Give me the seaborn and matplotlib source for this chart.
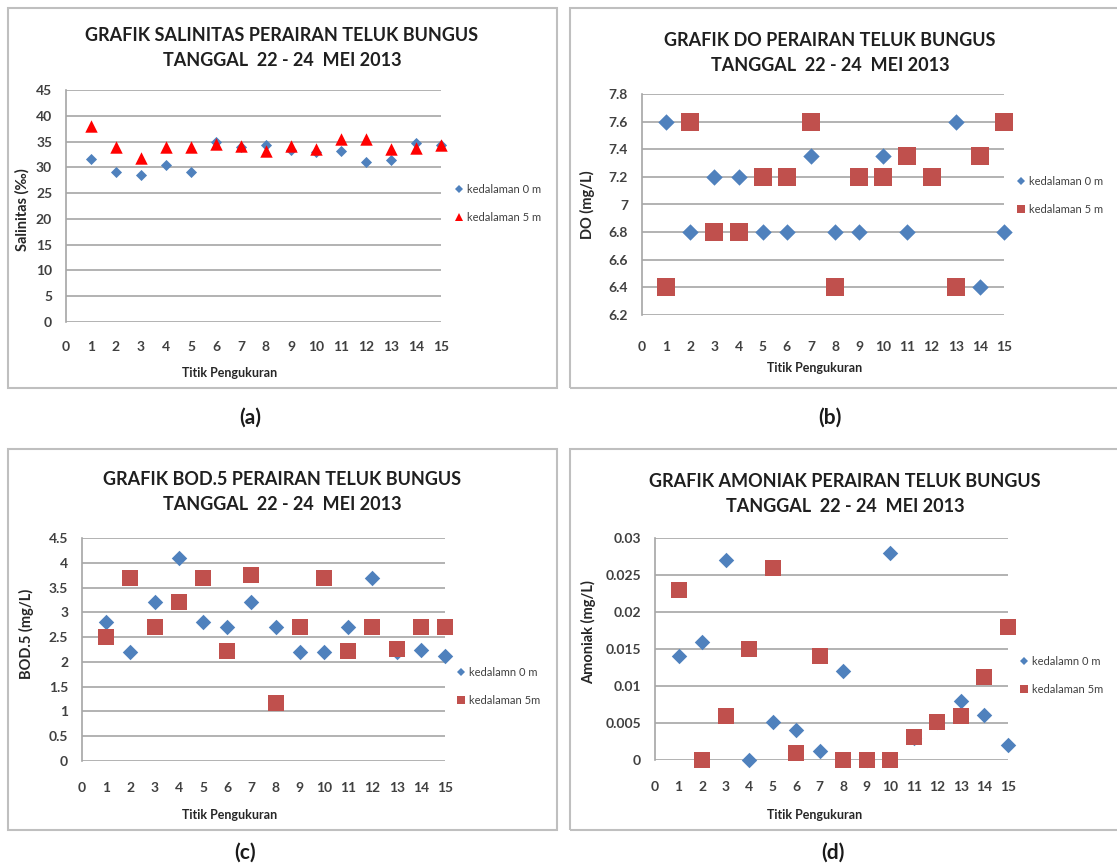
import numpy as np
import pandas as pd
import matplotlib.pyplot as plt
import seaborn as sns
from matplotlib.lines import Line2D
from matplotlib.patches import Rectangle
from matplotlib.ticker import FuncFormatter

sns.set_style("white")
plt.rcParams['font.family'] = ['Lato', 'DejaVu Sans']

# titik pengukuran 1..15
titik = list(range(1, 16))

# salinitas (permil)
sal_0m = [31.7, 29.1, 28.6, 30.5, 29.1, 35.0, 34.0, 34.3, 33.3, 33.0, 33.1, 31.0, 31.4, 34.8, 34.3]
sal_5m = [38.0, 33.9, 31.9, 34.0, 33.9, 34.6, 34.2, 33.2, 34.2, 33.5, 35.4, 35.4, 33.5, 33.8, 34.4]

# DO (mg/L)
do_0m = [7.6, 6.8, 7.2, 7.2, 6.8, 6.8, 7.35, 6.8, 6.8, 7.35, 6.8, 7.2, 7.6, 6.4, 6.8]
do_5m = [6.4, 7.6, 6.8, 6.8, 7.2, 7.2, 7.6, 6.4, 7.2, 7.2, 7.35, 7.2, 6.4, 7.35, 7.6]

# BOD5 (mg/L)
bod_0m = [2.8, 2.2, 3.2, 4.1, 2.8, 2.7, 3.2, 2.7, 2.2, 2.2, 2.7, 3.7, 2.2, 2.25, 2.12]
bod_5m = [2.5, 3.7, 2.7, 3.2, 3.7, 2.22, 3.75, 1.17, 2.7, 3.7, 2.22, 2.7, 2.27, 2.7, 2.7]

# amoniak (mg/L)
amo_0m = [0.014, 0.016, 0.027, 0.0, 0.0052, 0.004, 0.0012, 0.012, 0.0, 0.028, 0.003, 0.0052, 0.008, 0.0061, 0.002]
amo_5m = [0.023, 0.0, 0.006, 0.015, 0.026, 0.001, 0.014, 0.0, 0.0, 0.0, 0.0031, 0.0052, 0.006, 0.0112, 0.018]

W, H = 1117, 863
BLUE = '#4F81BD'
RED = '#C0504D'
TRI = '#FF0000'
GRID = '#A6A6A6'
TXT = '#404040'

fig = plt.figure(figsize=(W / 100, H / 100), dpi=100)


def px_axes(x0, y0, x1, y1):
    return fig.add_axes([x0 / W, 1 - y1 / H, (x1 - x0) / W, (y1 - y0) / H])


def fx(x):
    return x / W


def fy(y):
    return 1 - y / H


# panel frames
for (x0, y0, x1, y1) in [(8, 8, 557, 388), (570, 8, 1125, 388),
                         (8, 449, 557, 830), (570, 449, 1125, 830)]:
    fig.patches.append(Rectangle((fx(x0), fy(y1)), fx(x1 - x0), (y1 - y0) / H,
                                 transform=fig.transFigure, fill=False,
                                 edgecolor='#BFBFBF', linewidth=1.5))


def panel(box, y0m, y5m, m5, c5, s0, s5, ticks, ylab, title, tcenter, xlab_pos,
          ylab_pos, leg_pos, leg_labels, xpad):
    ax = px_axes(*box)
    df0 = pd.DataFrame({'titik': titik, 'nilai': y0m})
    df5 = pd.DataFrame({'titik': titik, 'nilai': y5m})
    sns.scatterplot(data=df0, x='titik', y='nilai', marker='D', color=BLUE, s=s0,
                    linewidth=0, legend=False, ax=ax, clip_on=False, zorder=3)
    sns.scatterplot(data=df5, x='titik', y='nilai', marker=m5, color=c5, s=s5,
                    linewidth=0, legend=False, ax=ax, clip_on=False, zorder=4)
    ax.set_xlim(0, 15)
    ax.set_ylim(ticks[0], ticks[-1])
    ax.set_xticks(range(0, 16))
    ax.set_yticks(ticks)
    ax.yaxis.set_major_formatter(FuncFormatter(lambda v, p: f'{round(v, 4):g}'))
    ax.grid(axis='y', color=GRID, linewidth=1.2)
    ax.grid(axis='x', visible=False)
    for side in ['top', 'right', 'bottom']:
        ax.spines[side].set_visible(False)
    ax.spines['left'].set_color(GRID)
    ax.spines['left'].set_linewidth(1.2)
    ax.tick_params(axis='x', length=0, pad=xpad, labelsize=10, labelcolor=TXT)
    ax.tick_params(axis='y', length=0, pad=10, labelsize=10, labelcolor=TXT)
    for lbl in ax.get_xticklabels() + ax.get_yticklabels():
        lbl.set_fontweight('bold')
    ax.set_xlabel('')
    ax.set_ylabel('')

    fig.text(fx(tcenter[0]), fy(tcenter[1]), title, ha='center', va='center',
             fontsize=13, fontweight='bold', color='#1f1f1f', linespacing=1.55)
    fig.text(fx(xlab_pos[0]), fy(xlab_pos[1]), 'Titik Pengukuran', ha='center',
             va='center', fontsize=9, fontweight='bold', color='#262626')
    fig.text(fx(ylab_pos[0]), fy(ylab_pos[1]), ylab, ha='center', va='center',
             rotation=90, fontsize=10.5, fontweight='bold', color='#262626')

    handles = [Line2D([], [], linestyle='none', marker='D', color=BLUE, markersize=4.5,
                      markeredgewidth=0),
               Line2D([], [], linestyle='none', marker=m5, color=c5,
                      markersize=6, markeredgewidth=0)]
    ax.legend(handles, leg_labels, loc='upper left',
              bbox_to_anchor=(fx(leg_pos[0]), fy(leg_pos[1])),
              bbox_transform=fig.transFigure, frameon=False, fontsize=8,
              borderpad=0, borderaxespad=0, handlelength=0.7, handletextpad=0.35,
              labelspacing=1.5, labelcolor=TXT)
    return ax


panel((66, 90, 441, 322), sal_0m, sal_5m, '^', TRI, 32, 80, list(range(0, 50, 5)),
      'Salinitas (‰)', 'GRAFIK SALINITAS PERAIRAN TELUK BUNGUS\nTANGGAL  22 - 24  MEI 2013',
      (282, 48), (230, 373), (22, 210), (455, 184),
      ['kedalaman 0 m', 'kedalaman 5 m'], 14)

panel((642, 94, 1004, 315), do_0m, do_5m, 's', RED, 70, 150,
      [6.2, 6.4, 6.6, 6.8, 7.0, 7.2, 7.4, 7.6, 7.8],
      'DO (mg/L)', 'GRAFIK DO PERAIRAN TELUK BUNGUS\nTANGGAL  22 - 24  MEI 2013',
      (830, 53), (815, 368), (587, 205), (1017, 176),
      ['kedalaman 0 m', 'kedalaman 5 m'], 19)

panel((82, 538, 445, 761), bod_0m, bod_5m, 's', RED, 62, 140,
      [0, 0.5, 1, 1.5, 2, 2.5, 3, 3.5, 4, 4.5],
      'BOD.5 (mg/L)', 'GRAFIK BOD.5 PERAIRAN TELUK BUNGUS\nTANGGAL  22 - 24  MEI 2013',
      (282, 492), (230, 815), (26, 634), (457, 667),
      ['kedalamn 0 m', 'kedalaman 5m'], 15)

panel((655, 538, 1008, 760), amo_0m, amo_5m, 's', RED, 62, 140,
      [0, 0.005, 0.01, 0.015, 0.02, 0.025, 0.03],
      'Amoniak (mg/L)', 'GRAFIK AMONIAK PERAIRAN TELUK BUNGUS\nTANGGAL  22 - 24  MEI 2013',
      (845, 494), (815, 815), (589, 632), (1020, 656),
      ['kedalamn 0 m', 'kedalaman 5m'], 15)

# panel captions
for lab, (x, y) in zip(['(a)', '(b)', '(c)', '(d)'],
                       [(250, 418), (830, 418), (245, 853), (833, 853)]):
    fig.text(fx(x), fy(y), lab, ha='center', va='center', fontsize=15,
             fontweight='bold', color='#1a1a1a')

fig.savefig('out.png', dpi=100)
